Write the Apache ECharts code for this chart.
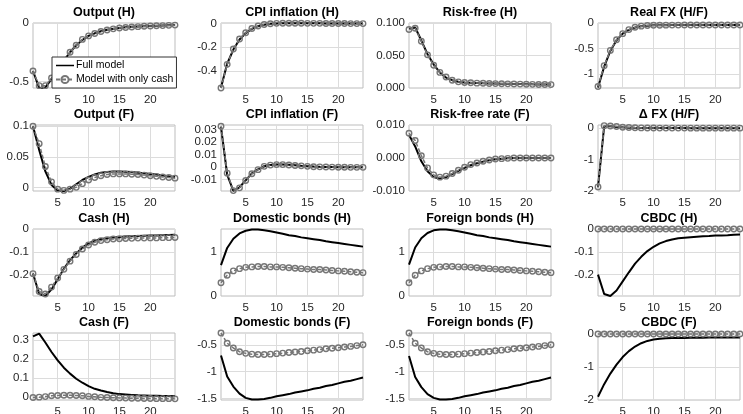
<!DOCTYPE html>
<html>
<head>
<meta charset="utf-8">
<script src="https://cdn.jsdelivr.net/npm/echarts@6.0.0/dist/echarts.min.js"></script>
<style>
  html, body { margin: 0; padding: 0; background: #fff; }
  #chart { width: 743px; height: 414px; }
</style>
</head>
<body>
<div id="chart"></div>
<script>
// horizon (quarters)
const periods = [1, 2, 3, 4, 5, 6, 7, 8, 9, 10, 11, 12, 13, 14, 15, 16, 17, 18, 19, 20, 21, 22, 23, 24]
const xTicks = [5, 10, 15, 20]

// row 1
const outputHFull = [-0.41, -0.555, -0.55, -0.48, -0.40, -0.32, -0.25, -0.19, -0.145, -0.11, -0.088, -0.07, -0.058, -0.049, -0.042, -0.037, -0.033, -0.03, -0.027, -0.025, -0.023, -0.021, -0.019, -0.017]
const outputHCash = [-0.41, -0.535, -0.535, -0.47, -0.40, -0.32, -0.25, -0.19, -0.14, -0.11, -0.09, -0.072, -0.06, -0.05, -0.043, -0.038, -0.034, -0.031, -0.028, -0.026, -0.024, -0.022, -0.02, -0.018]
const cpiHFull = [-0.54, -0.34, -0.22, -0.135, -0.08, -0.045, -0.022, -0.009, -0.002, 0.001, 0.002, 0.003, 0.003, 0.003, 0.002, 0.002, 0.002, 0.001, 0.001, 0.001, 0.001, 0, 0, 0]
const cpiHCash = [-0.545, -0.345, -0.215, -0.13, -0.078, -0.042, -0.02, -0.008, -0.001, 0.002, 0.003, 0.003, 0.003, 0.003, 0.002, 0.002, 0.002, 0.001, 0.001, 0.001, 0.001, 0, 0, 0]
const rfHFull = [0.091, 0.093, 0.073, 0.052, 0.036, 0.024, 0.016, 0.012, 0.0095, 0.0085, 0.008, 0.0075, 0.0072, 0.007, 0.0068, 0.0066, 0.0064, 0.0062, 0.006, 0.0058, 0.0056, 0.0055, 0.0053, 0.0052]
const rfHCash = [0.09, 0.092, 0.072, 0.051, 0.035, 0.024, 0.017, 0.012, 0.0095, 0.0085, 0.008, 0.0075, 0.0072, 0.007, 0.0068, 0.0066, 0.0064, 0.0062, 0.006, 0.0058, 0.0056, 0.0055, 0.0053, 0.0052]
const fxHFull = [-1.27, -0.86, -0.55, -0.34, -0.21, -0.135, -0.09, -0.065, -0.052, -0.046, -0.043, -0.042, -0.041, -0.041, -0.04, -0.04, -0.04, -0.04, -0.04, -0.04, -0.04, -0.04, -0.04, -0.04]
const fxHCash = [-1.25, -0.84, -0.54, -0.33, -0.21, -0.13, -0.085, -0.062, -0.05, -0.045, -0.043, -0.042, -0.041, -0.041, -0.04, -0.04, -0.04, -0.04, -0.04, -0.04, -0.04, -0.04, -0.04, -0.04]

// row 2
const outputFFull = [0.1, 0.061, 0.026, 0.004, -0.005, -0.006, -0.002, 0.005, 0.012, 0.017, 0.021, 0.024, 0.025, 0.026, 0.026, 0.0255, 0.025, 0.024, 0.023, 0.022, 0.021, 0.0195, 0.018, 0.017]
const outputFCash = [0.1, 0.0715, 0.034, 0.009, -0.003, -0.005, -0.003, 0.0, 0.006, 0.012, 0.016, 0.019, 0.021, 0.022, 0.022, 0.022, 0.0215, 0.021, 0.02, 0.019, 0.018, 0.017, 0.016, 0.015]
const cpiFFull = [0.032, -0.006, -0.019, -0.016, -0.0105, -0.005, -0.0018, 0.0007, 0.0017, 0.002, 0.002, 0.0018, 0.0014, 0.001, 0.0007, 0.0004, 0.0002, 0.0001, 0, -0.0001, -0.0001, -0.0002, -0.0002, -0.0002]
const cpiFCash = [0.0325, -0.0048, -0.0187, -0.0165, -0.0106, -0.0053, -0.002, 0.0006, 0.0016, 0.002, 0.002, 0.0017, 0.0013, 0.001, 0.0006, 0.0003, 0.0002, 0.0001, 0, -0.0001, -0.0001, -0.0002, -0.0002, -0.0002]
const rfFFull = [0.007, 0.0035, -0.001, -0.004, -0.0058, -0.0063, -0.0058, -0.0049, -0.0039, -0.003, -0.0022, -0.0016, -0.0011, -0.0007, -0.0004, -0.0002, -0.0001, 0, 0, 0, 0, 0, 0, 0]
const rfFCash = [0.0075, 0.0053, 0.0007, -0.003, -0.0051, -0.0058, -0.0055, -0.0047, -0.0037, -0.0028, -0.002, -0.0015, -0.001, -0.0006, -0.0003, -0.0002, -0.0001, 0, 0, 0, 0, 0, 0, 0]
const dfxFull = [-1.88, 0.06, 0.06, 0.04, 0.025, 0.015, 0.01, 0.006, 0.004, 0.003, 0.002, 0.002, 0.001, 0.001, 0.001, 0, 0, 0, 0, 0, 0, 0, 0, 0]
const dfxCash = [-1.87, 0.08, 0.07, 0.05, 0.03, 0.02, 0.012, 0.008, 0.005, 0.003, 0.002, 0.002, 0.001, 0.001, 0.001, 0, 0, 0, 0, 0, 0, 0, 0, 0]

// row 3
const cashHFull = [-0.195, -0.285, -0.294, -0.265, -0.22, -0.174, -0.137, -0.107, -0.082, -0.063, -0.051, -0.044, -0.04, -0.037, -0.035, -0.033, -0.032, -0.031, -0.03, -0.029, -0.028, -0.027, -0.026, -0.025]
const cashHCash = [-0.196, -0.274, -0.285, -0.255, -0.215, -0.177, -0.141, -0.112, -0.088, -0.07, -0.058, -0.051, -0.047, -0.044, -0.043, -0.042, -0.041, -0.04, -0.04, -0.039, -0.039, -0.038, -0.038, -0.037]
const domHFull = [0.70, 1.09, 1.30, 1.42, 1.48, 1.51, 1.51, 1.49, 1.47, 1.44, 1.41, 1.38, 1.36, 1.33, 1.31, 1.29, 1.27, 1.24, 1.22, 1.20, 1.18, 1.16, 1.14, 1.12]
const domHCash = [0.30, 0.47, 0.57, 0.62, 0.65, 0.66, 0.67, 0.67, 0.66, 0.66, 0.65, 0.64, 0.63, 0.62, 0.61, 0.60, 0.60, 0.59, 0.58, 0.57, 0.56, 0.55, 0.54, 0.53]
const forHFull = [0.71, 1.10, 1.31, 1.43, 1.49, 1.51, 1.51, 1.49, 1.47, 1.44, 1.41, 1.38, 1.36, 1.33, 1.31, 1.29, 1.27, 1.24, 1.22, 1.20, 1.18, 1.16, 1.14, 1.12]
const forHCash = [0.30, 0.47, 0.57, 0.62, 0.65, 0.66, 0.67, 0.67, 0.66, 0.66, 0.65, 0.64, 0.63, 0.62, 0.61, 0.60, 0.60, 0.59, 0.58, 0.57, 0.56, 0.55, 0.54, 0.53]
const cbdcHFull = [-0.2, -0.285, -0.294, -0.27, -0.23, -0.19, -0.152, -0.122, -0.097, -0.078, -0.063, -0.053, -0.046, -0.041, -0.038, -0.036, -0.034, -0.032, -0.031, -0.029, -0.028, -0.027, -0.025, -0.024]
const cbdcHCash = [0, 0, 0, 0, 0, 0, 0, 0, 0, 0, 0, 0, 0, 0, 0, 0, 0, 0, 0, 0, 0, 0, 0, 0]

// row 4
const cashFFull = [0.32, 0.335, 0.288, 0.238, 0.194, 0.155, 0.124, 0.097, 0.076, 0.058, 0.044, 0.035, 0.027, 0.021, 0.016, 0.014, 0.012, 0.01, 0.009, 0.008, 0.007, 0.006, 0.006, 0.005]
const cashFCash = [-0.002, 0, 0.003, 0.007, 0.009, 0.01, 0.01, 0.009, 0.007, 0.004, 0.002, -0.001, -0.002, -0.003, -0.004, -0.005, -0.006, -0.006, -0.007, -0.007, -0.008, -0.008, -0.008, -0.009]
const domFFull = [-0.70, -1.09, -1.28, -1.41, -1.49, -1.52, -1.52, -1.51, -1.49, -1.46, -1.44, -1.42, -1.39, -1.37, -1.35, -1.32, -1.30, -1.27, -1.25, -1.22, -1.19, -1.17, -1.14, -1.11]
const domFCash = [-0.28, -0.47, -0.56, -0.63, -0.66, -0.675, -0.68, -0.68, -0.675, -0.665, -0.655, -0.645, -0.635, -0.625, -0.61, -0.6, -0.59, -0.575, -0.565, -0.555, -0.54, -0.53, -0.515, -0.5]
const forFFull = [-0.71, -1.10, -1.29, -1.42, -1.49, -1.52, -1.52, -1.51, -1.49, -1.46, -1.44, -1.42, -1.39, -1.37, -1.35, -1.32, -1.30, -1.27, -1.25, -1.22, -1.19, -1.17, -1.14, -1.11]
const forFCash = [-0.28, -0.47, -0.56, -0.63, -0.66, -0.675, -0.68, -0.68, -0.675, -0.665, -0.655, -0.645, -0.635, -0.625, -0.61, -0.6, -0.59, -0.575, -0.565, -0.555, -0.54, -0.53, -0.515, -0.5]
const cbdcFFull = [-1.9, -1.52, -1.2, -0.93, -0.7, -0.52, -0.38, -0.28, -0.21, -0.17, -0.145, -0.13, -0.125, -0.12, -0.12, -0.115, -0.115, -0.115, -0.11, -0.11, -0.11, -0.11, -0.11, -0.11]
const cbdcFCash = [0, 0, 0, 0, 0, 0, 0, 0, 0, 0, 0, 0, 0, 0, 0, 0, 0, 0, 0, 0, 0, 0, 0, 0]

const panels = [
    { title: 'Output (H)', full: outputHFull, cash: outputHCash, min: -0.555, max: 0, ticks: [-0.5, 0] },
    { title: 'CPI inflation (H)', full: cpiHFull, cash: cpiHCash, min: -0.545, max: 0.005, ticks: [-0.4, -0.2, 0] },
    { title: 'Risk-free (H)', full: rfHFull, cash: rfHCash, min: 0, max: 0.1, ticks: [0, 0.05, 0.1], digits: 3 },
    { title: 'Real FX (H/F)', full: fxHFull, cash: fxHCash, min: -1.28, max: 0, ticks: [-1, -0.5, 0] },
    { title: 'Output (F)', full: outputFFull, cash: outputFCash, min: -0.006, max: 0.102, ticks: [0, 0.05, 0.1] },
    { title: 'CPI inflation (F)', full: cpiFFull, cash: cpiFCash, min: -0.019, max: 0.0335, ticks: [-0.01, 0, 0.01, 0.02, 0.03] },
    { title: 'Risk-free rate (F)', full: rfFFull, cash: rfFCash, min: -0.01, max: 0.01, ticks: [-0.01, 0, 0.01], digits: 3 },
    { title: 'Δ FX (H/F)', full: dfxFull, cash: dfxCash, min: -2, max: 0.1, ticks: [-2, -1, 0] },
    { title: 'Cash (H)', full: cashHFull, cash: cashHCash, min: -0.294, max: 0, ticks: [-0.2, -0.1, 0] },
    { title: 'Domestic bonds (H)', full: domHFull, cash: domHCash, min: 0, max: 1.52, ticks: [0, 1] },
    { title: 'Foreign bonds (H)', full: forHFull, cash: forHCash, min: 0, max: 1.52, ticks: [0, 1] },
    { title: 'CBDC (H)', full: cbdcHFull, cash: cbdcHCash, min: -0.294, max: 0, ticks: [-0.2, -0.1, 0] },
    { title: 'Cash (F)', full: cashFFull, cash: cashFCash, min: -0.015, max: 0.338, ticks: [0, 0.1, 0.2, 0.3] },
    { title: 'Domestic bonds (F)', full: domFFull, cash: domFCash, min: -1.53, max: -0.28, ticks: [-1.5, -1, -0.5] },
    { title: 'Foreign bonds (F)', full: forFFull, cash: forFCash, min: -1.53, max: -0.28, ticks: [-1.5, -1, -0.5] },
    { title: 'CBDC (F)', full: cbdcFFull, cash: cbdcFCash, min: -2, max: 0.03, ticks: [-2, -1, 0] }
]

const colLeft = [33, 221, 409, 598]
const colWidth = 142
const rowTop = [23, 125, 229, 333]
const rowHeight = [65, 66, 67, 67]
const fontFamily = '"Liberation Sans", Arial, Helvetica, sans-serif'
const gridColor = '#dcdcdc'
const cashColor = '#767676'
// plain line icon for the full model legend entry
const lineIcon = 'path://M0,0 L0.1,0 L0.1,0.1 Z M0,4.1 L20,4.1 L20,5.9 L0,5.9 Z M0,9.9 L0.1,9.9 L0.1,10 Z'

const grids = [], xAxes = [], yAxes = [], series = [], titles = []
panels.forEach((p, i) => {
    const r = Math.floor(i / 4), c = i % 4
    grids.push({
        left: colLeft[c], top: rowTop[r], width: colWidth, height: rowHeight[r],
        show: true, borderColor: '#bdbdbd', borderWidth: 1, backgroundColor: '#fff',
        containLabel: false, outerBoundsMode: 'none'
    })
    titles.push({
        text: p.title,
        left: colLeft[c] + colWidth / 2, top: rowTop[r] - 17,
        textAlign: 'center', padding: 0,
        textStyle: { fontSize: 12.5, fontWeight: 'bold', color: '#000', fontFamily }
    })
    xAxes.push({
        type: 'value', gridIndex: i, min: 1, max: 24,
        axisLine: { show: false },
        axisTick: { show: false, customValues: xTicks },
        axisLabel: { customValues: xTicks, color: '#262626', fontSize: 11.5, fontFamily, margin: 6 },
        splitLine: { show: true, lineStyle: { color: gridColor, width: 1 } }
    })
    yAxes.push({
        type: 'value', gridIndex: i, min: p.min, max: p.max,
        axisLine: { show: false },
        axisTick: { show: false, customValues: p.ticks },
        axisLabel: {
            customValues: p.ticks, color: '#262626', fontSize: 11.5, fontFamily, margin: 4,
            formatter: v => p.digits ? v.toFixed(p.digits) : String(v)
        },
        splitLine: { show: true, lineStyle: { color: gridColor, width: 1 } }
    })
    series.push({
        name: 'Full model', type: 'line', xAxisIndex: i, yAxisIndex: i,
        data: periods.map((t, k) => [t, p.full[k]]),
        symbol: 'none', clip: false,
        lineStyle: { color: '#000', width: 2 },
        itemStyle: { color: '#000' }
    })
    series.push({
        name: 'Model with only cash', type: 'line', xAxisIndex: i, yAxisIndex: i,
        data: periods.map((t, k) => [t, p.cash[k]]),
        symbol: 'circle', symbolSize: 5.5, clip: false,
        lineStyle: { color: cashColor, width: 1.5, type: [4, 2] },
        itemStyle: { color: 'rgba(255,255,255,0)', borderColor: cashColor, borderWidth: 1.4 }
    })
})

const chart = echarts.init(document.getElementById('chart'))
chart.setOption({
    animation: false,
    backgroundColor: '#fff',
    title: titles,
    legend: {
        data: [{ name: 'Full model', icon: lineIcon }, 'Model with only cash'],
        orient: 'vertical', left: 52, top: 57,
        backgroundColor: '#fff', borderColor: '#333', borderWidth: 1,
        padding: [3, 3, 3, 3], itemGap: 3, itemWidth: 18, itemHeight: 9,
        textStyle: { color: '#000', fontSize: 10.5, fontFamily, padding: [0, 0, 0, -3] }
    },
    grid: grids,
    xAxis: xAxes,
    yAxis: yAxes,
    series
})
</script>
</body>
</html>
